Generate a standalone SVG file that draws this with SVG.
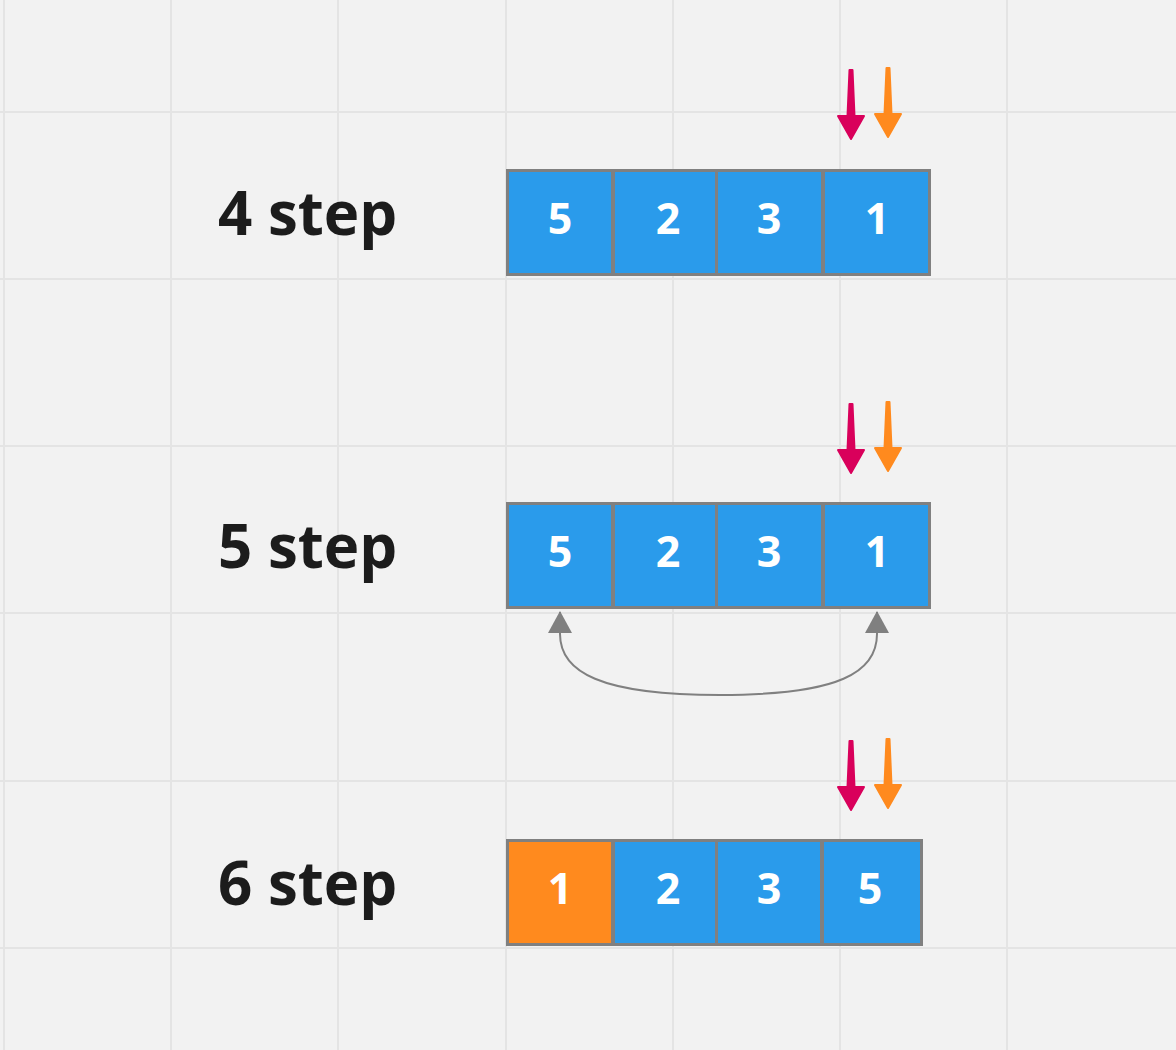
<svg xmlns="http://www.w3.org/2000/svg" width="1176" height="1050" viewBox="0 0 1176 1050">
<style>
.grid{stroke:#e4e4e4;stroke-width:2;fill:none}
.cell{fill:#2a9beb;stroke:#808080;stroke-width:3}
.cell.hl{fill:#ff8a1e}
.num{font-family:"Open Sans","DejaVu Sans",sans-serif;font-weight:bold;font-size:43px;fill:#ffffff;text-anchor:middle}
.lbl{font-family:"Open Sans","DejaVu Sans",sans-serif;font-weight:bold;font-size:60px;fill:#1c1c1c}
.red{fill:#d9005b;stroke:#d9005b;stroke-width:2;stroke-linejoin:round}
.org{fill:#ff8a1e;stroke:#ff8a1e;stroke-width:2;stroke-linejoin:round}
.conn{fill:none;stroke:#808080;stroke-width:2}
</style>
<defs>
<path id="ptr" d="M-1.5,0 L1.5,0 L3.5,46 L13,46 L0,69 L-13,46 L-3.5,46 Z"/>
</defs>
<rect width="1176" height="1050" fill="#f2f2f2"/>
<g id="grid" class="grid">
<line x1="4" y1="0" x2="4" y2="1050"/>
<line x1="171" y1="0" x2="171" y2="1050"/>
<line x1="338" y1="0" x2="338" y2="1050"/>
<line x1="506" y1="0" x2="506" y2="1050"/>
<line x1="673" y1="0" x2="673" y2="1050"/>
<line x1="840" y1="0" x2="840" y2="1050"/>
<line x1="1007" y1="0" x2="1007" y2="1050"/>
<line x1="0" y1="112" x2="1176" y2="112"/>
<line x1="0" y1="279" x2="1176" y2="279"/>
<line x1="0" y1="446" x2="1176" y2="446"/>
<line x1="0" y1="613" x2="1176" y2="613"/>
<line x1="0" y1="781" x2="1176" y2="781"/>
<line x1="0" y1="948" x2="1176" y2="948"/>
</g>
<g id="step4">
<text class="lbl" x="218" y="235">4 step</text>
<rect class="cell" x="507.5" y="170.5" width="105" height="104"/>
<rect class="cell" x="613.5" y="170.5" width="103" height="104"/>
<rect class="cell" x="716.5" y="170.5" width="106" height="104"/>
<rect class="cell" x="823.5" y="170.5" width="106" height="104"/>
<text class="num" x="560" y="234">5</text>
<text class="num" x="668" y="234">2</text>
<text class="num" x="769" y="234">3</text>
<text class="num" x="877" y="234">1</text>
<use href="#ptr" class="red" transform="translate(851,70)"/>
<use href="#ptr" class="org" transform="translate(888,68)"/>
</g>
<g id="step5">
<text class="lbl" x="218" y="568">5 step</text>
<rect class="cell" x="507.5" y="503.5" width="105" height="104"/>
<rect class="cell" x="613.5" y="503.5" width="103" height="104"/>
<rect class="cell" x="716.5" y="503.5" width="106" height="104"/>
<rect class="cell" x="823.5" y="503.5" width="106" height="104"/>
<text class="num" x="560" y="567">5</text>
<text class="num" x="668" y="567">2</text>
<text class="num" x="769" y="567">3</text>
<text class="num" x="877" y="567">1</text>
<use href="#ptr" class="red" transform="translate(851,404)"/>
<use href="#ptr" class="org" transform="translate(888,402)"/>
</g>
<g id="step6">
<text class="lbl" x="218" y="905">6 step</text>
<rect class="cell hl" x="507.5" y="840.5" width="105" height="104"/>
<rect class="cell" x="613.5" y="840.5" width="103" height="104"/>
<rect class="cell" x="716.5" y="840.5" width="105" height="104"/>
<rect class="cell" x="822.5" y="840.5" width="99" height="104"/>
<text class="num" x="560" y="904">1</text>
<text class="num" x="668" y="904">2</text>
<text class="num" x="769" y="904">3</text>
<text class="num" x="870" y="904">5</text>
<use href="#ptr" class="red" transform="translate(851,741)"/>
<use href="#ptr" class="org" transform="translate(888,739)"/>
</g>
<g id="connectors">
<path class="conn" d="M560,612 L560,634 C560,672 600,695 720,695 C840,695 877,672 877,634 L877,612"/>
<path d="M548,633 L560,611 L572,633 Z" fill="#808080"/>
<path d="M865,633 L877,611 L889,633 Z" fill="#808080"/>
</g>
</svg>
